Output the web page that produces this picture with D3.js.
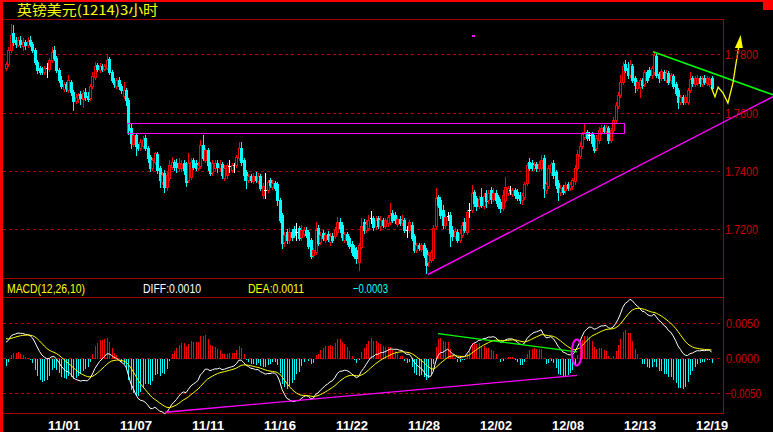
<!DOCTYPE html>
<html><head><meta charset="utf-8">
<script src="https://cdn.jsdelivr.net/npm/d3@7"></script>
<style>html,body{margin:0;padding:0;background:#000;overflow:hidden}svg{display:block}</style>
</head><body><svg id="c" width="773" height="432"></svg>
<script>
// ---------------- DATA ----------------
const titleText = "英镑美元(1214)3小时";
const openP = [1.7753,1.7767,1.7815,1.7873,1.7849,1.7832,1.7849,1.7828,1.7842,1.7832,
1.7849,1.7835,1.7815,1.7774,1.7753,1.7746,1.7739,1.7753,1.7750,1.7780,
1.7815,1.7787,1.7746,1.7712,1.7681,1.7698,1.7678,1.7705,1.7671,1.7640,
1.7647,1.7664,1.7647,1.7671,1.7657,1.7650,1.7691,1.7722,1.7763,1.7746,
1.7760,1.7750,1.7753,1.7784,1.7739,1.7712,1.7691,1.7712,1.7691,1.7657,
1.7678,1.7643,1.7547,1.7492,1.7523,1.7485,1.7479,1.7485,1.7513,1.7479,
1.7448,1.7410,1.7431,1.7458,1.7410,1.7362,1.7393,1.7345,1.7376,1.7413,
1.7431,1.7427,1.7410,1.7410,1.7427,1.7420,1.7369,1.7379,1.7437,1.7427,
1.7410,1.7417,1.7489,1.7437,1.7472,1.7420,1.7396,1.7410,1.7427,1.7410,
1.7424,1.7376,1.7386,1.7417,1.7403,1.7420,1.7420,1.7444,1.7479,1.7437,
1.7396,1.7369,1.7383,1.7365,1.7383,1.7365,1.7383,1.7317,1.7335,1.7335,
1.7369,1.7345,1.7359,1.7355,1.7300,1.7249,1.7156,1.7190,1.7163,1.7190,
1.7201,1.7190,1.7204,1.7173,1.7184,1.7197,1.7190,1.7163,1.7112,1.7122,
1.7204,1.7156,1.7187,1.7163,1.7184,1.7156,1.7177,1.7177,1.7190,1.7225,
1.7215,1.7163,1.7184,1.7170,1.7149,1.7136,1.7129,1.7088,1.7139,1.7225,
1.7197,1.7204,1.7239,1.7239,1.7211,1.7239,1.7211,1.7232,1.7211,1.7221,
1.7225,1.7256,1.7249,1.7218,1.7235,1.7221,1.7232,1.7197,1.7197,1.7215,
1.7177,1.7129,1.7146,1.7132,1.7146,1.7129,1.7088,1.7094,1.7101,1.7211,
1.7311,1.7300,1.7266,1.7215,1.7245,1.7249,1.7197,1.7177,1.7190,1.7163,
1.7180,1.7225,1.7190,1.7266,1.7266,1.7328,1.7307,1.7280,1.7311,1.7280,
1.7324,1.7300,1.7335,1.7304,1.7324,1.7311,1.7293,1.7273,1.7300,1.7324,
1.7335,1.7321,1.7335,1.7328,1.7317,1.7300,1.7311,1.7359,1.7431,1.7427,
1.7410,1.7424,1.7410,1.7410,1.7444,1.7335,1.7348,1.7396,1.7427,1.7396,
1.7359,1.7328,1.7345,1.7335,1.7355,1.7341,1.7348,1.7365,1.7410,1.7451,
1.7485,1.7516,1.7533,1.7523,1.7527,1.7513,1.7479,1.7506,1.7533,1.7551,
1.7537,1.7547,1.7506,1.7540,1.7575,1.7623,1.7660,1.7705,1.7767,1.7753,
1.7729,1.7760,1.7719,1.7684,1.7688,1.7712,1.7698,1.7739,1.7746,1.7729,
1.7739,1.7794,1.7732,1.7719,1.7739,1.7712,1.7736,1.7712,1.7726,1.7698,
1.7678,1.7636,1.7654,1.7636,1.7636,1.7678,1.7719,1.7698,1.7702,1.7719,
1.7698,1.7719,1.7702,1.7698,1.7719];
const highP = [1.7774,1.7825,1.7904,1.7900,1.7859,1.7859,1.7863,1.7856,1.7849,1.7859,
1.7863,1.7842,1.7822,1.7780,1.7760,1.7756,1.7760,1.7770,1.7787,1.7825,
1.7828,1.7794,1.7753,1.7726,1.7705,1.7705,1.7729,1.7712,1.7678,1.7664,
1.7667,1.7674,1.7678,1.7684,1.7671,1.7698,1.7739,1.7774,1.7770,1.7770,
1.7767,1.7767,1.7801,1.7791,1.7746,1.7719,1.7719,1.7722,1.7698,1.7705,
1.7684,1.7650,1.7561,1.7530,1.7530,1.7492,1.7509,1.7520,1.7523,1.7485,
1.7455,1.7444,1.7465,1.7465,1.7417,1.7396,1.7403,1.7396,1.7437,1.7448,
1.7437,1.7441,1.7444,1.7437,1.7437,1.7431,1.7461,1.7444,1.7444,1.7437,
1.7431,1.7506,1.7523,1.7479,1.7479,1.7431,1.7437,1.7437,1.7437,1.7437,
1.7431,1.7420,1.7427,1.7437,1.7427,1.7427,1.7455,1.7499,1.7499,1.7444,
1.7403,1.7389,1.7389,1.7393,1.7396,1.7393,1.7389,1.7359,1.7393,1.7369,
1.7376,1.7369,1.7365,1.7362,1.7307,1.7256,1.7190,1.7201,1.7204,1.7201,
1.7211,1.7221,1.7211,1.7215,1.7208,1.7208,1.7197,1.7170,1.7136,1.7225,
1.7215,1.7190,1.7197,1.7190,1.7194,1.7187,1.7187,1.7208,1.7242,1.7239,
1.7225,1.7190,1.7190,1.7177,1.7160,1.7146,1.7139,1.7153,1.7239,1.7235,
1.7232,1.7249,1.7263,1.7245,1.7245,1.7245,1.7245,1.7239,1.7239,1.7249,
1.7290,1.7266,1.7259,1.7245,1.7245,1.7249,1.7239,1.7211,1.7232,1.7225,
1.7184,1.7153,1.7153,1.7153,1.7153,1.7136,1.7122,1.7129,1.7215,1.7341,
1.7317,1.7311,1.7283,1.7252,1.7259,1.7259,1.7211,1.7204,1.7201,1.7201,
1.7225,1.7239,1.7266,1.7290,1.7352,1.7335,1.7314,1.7314,1.7341,1.7324,
1.7335,1.7335,1.7345,1.7341,1.7335,1.7317,1.7304,1.7335,1.7379,1.7348,
1.7348,1.7341,1.7341,1.7338,1.7328,1.7324,1.7362,1.7427,1.7444,1.7437,
1.7431,1.7431,1.7434,1.7455,1.7455,1.7362,1.7420,1.7431,1.7437,1.7403,
1.7369,1.7352,1.7352,1.7362,1.7362,1.7362,1.7376,1.7420,1.7472,1.7499,
1.7533,1.7564,1.7540,1.7533,1.7533,1.7523,1.7523,1.7551,1.7558,1.7558,
1.7558,1.7554,1.7547,1.7585,1.7636,1.7671,1.7729,1.7774,1.7780,1.7774,
1.7780,1.7767,1.7726,1.7712,1.7719,1.7719,1.7746,1.7746,1.7756,1.7760,
1.7811,1.7801,1.7739,1.7750,1.7746,1.7746,1.7743,1.7736,1.7732,1.7705,
1.7684,1.7660,1.7660,1.7660,1.7684,1.7739,1.7726,1.7726,1.7729,1.7726,
1.7726,1.7729,1.7726,1.7722,1.7726];
const lowP = [1.7746,1.7760,1.7808,1.7832,1.7825,1.7828,1.7825,1.7815,1.7818,1.7825,
1.7828,1.7808,1.7767,1.7736,1.7732,1.7732,1.7732,1.7722,1.7743,1.7774,
1.7780,1.7739,1.7705,1.7684,1.7674,1.7674,1.7671,1.7660,1.7609,1.7633,
1.7636,1.7630,1.7619,1.7643,1.7640,1.7643,1.7684,1.7715,1.7743,1.7739,
1.7743,1.7746,1.7750,1.7732,1.7705,1.7688,1.7684,1.7681,1.7667,1.7650,
1.7626,1.7527,1.7479,1.7485,1.7455,1.7472,1.7472,1.7479,1.7472,1.7431,
1.7400,1.7403,1.7424,1.7393,1.7345,1.7355,1.7328,1.7335,1.7369,1.7407,
1.7403,1.7396,1.7403,1.7400,1.7389,1.7348,1.7362,1.7372,1.7407,1.7403,
1.7403,1.7410,1.7437,1.7431,1.7403,1.7386,1.7386,1.7403,1.7396,1.7403,
1.7376,1.7369,1.7376,1.7396,1.7396,1.7396,1.7413,1.7437,1.7420,1.7369,
1.7341,1.7362,1.7362,1.7359,1.7362,1.7359,1.7335,1.7307,1.7307,1.7328,
1.7345,1.7338,1.7335,1.7283,1.7225,1.7136,1.7142,1.7153,1.7153,1.7163,
1.7173,1.7163,1.7163,1.7163,1.7177,1.7173,1.7136,1.7101,1.7105,1.7115,
1.7146,1.7149,1.7163,1.7156,1.7160,1.7146,1.7156,1.7170,1.7184,1.7190,
1.7163,1.7156,1.7149,1.7136,1.7112,1.7101,1.7084,1.7060,1.7132,1.7187,
1.7190,1.7197,1.7221,1.7197,1.7201,1.7204,1.7197,1.7208,1.7204,1.7211,
1.7218,1.7225,1.7221,1.7211,1.7215,1.7215,1.7190,1.7173,1.7190,1.7163,
1.7122,1.7122,1.7129,1.7125,1.7105,1.7050,1.7074,1.7088,1.7094,1.7204,
1.7276,1.7239,1.7204,1.7204,1.7232,1.7142,1.7163,1.7170,1.7156,1.7156,
1.7173,1.7190,1.7184,1.7242,1.7259,1.7280,1.7266,1.7273,1.7276,1.7273,
1.7276,1.7290,1.7290,1.7297,1.7290,1.7273,1.7259,1.7266,1.7293,1.7317,
1.7321,1.7314,1.7307,1.7300,1.7290,1.7287,1.7304,1.7352,1.7403,1.7403,
1.7403,1.7400,1.7403,1.7403,1.7311,1.7324,1.7341,1.7386,1.7376,1.7341,
1.7300,1.7317,1.7321,1.7324,1.7335,1.7335,1.7338,1.7355,1.7403,1.7444,
1.7479,1.7509,1.7506,1.7506,1.7485,1.7465,1.7472,1.7496,1.7527,1.7530,
1.7530,1.7496,1.7499,1.7533,1.7568,1.7616,1.7654,1.7698,1.7739,1.7719,
1.7722,1.7705,1.7671,1.7678,1.7654,1.7684,1.7691,1.7705,1.7722,1.7719,
1.7732,1.7722,1.7705,1.7712,1.7712,1.7705,1.7698,1.7702,1.7684,1.7660,
1.7616,1.7630,1.7630,1.7630,1.7630,1.7671,1.7691,1.7691,1.7695,1.7691,
1.7691,1.7698,1.7695,1.7691,1.7678];
const closeP = [1.7767,1.7815,1.7866,1.7842,1.7835,1.7849,1.7835,1.7842,1.7832,1.7846,
1.7835,1.7815,1.7774,1.7746,1.7739,1.7739,1.7753,1.7753,1.7780,1.7808,
1.7787,1.7746,1.7712,1.7691,1.7698,1.7684,1.7712,1.7671,1.7640,1.7654,
1.7660,1.7650,1.7667,1.7654,1.7647,1.7691,1.7726,1.7760,1.7750,1.7760,
1.7750,1.7760,1.7780,1.7739,1.7712,1.7698,1.7712,1.7691,1.7678,1.7678,
1.7643,1.7540,1.7496,1.7523,1.7485,1.7479,1.7499,1.7506,1.7479,1.7444,
1.7410,1.7437,1.7461,1.7403,1.7369,1.7386,1.7345,1.7386,1.7420,1.7431,
1.7413,1.7413,1.7427,1.7424,1.7403,1.7362,1.7427,1.7431,1.7413,1.7410,
1.7420,1.7489,1.7444,1.7472,1.7420,1.7393,1.7427,1.7427,1.7413,1.7424,
1.7386,1.7410,1.7420,1.7417,1.7420,1.7420,1.7448,1.7479,1.7431,1.7386,
1.7369,1.7383,1.7369,1.7383,1.7369,1.7383,1.7341,1.7348,1.7335,1.7362,
1.7352,1.7359,1.7341,1.7300,1.7232,1.7153,1.7180,1.7163,1.7190,1.7173,
1.7180,1.7190,1.7170,1.7197,1.7197,1.7180,1.7142,1.7108,1.7129,1.7197,
1.7153,1.7180,1.7170,1.7180,1.7166,1.7177,1.7163,1.7197,1.7225,1.7204,
1.7173,1.7184,1.7163,1.7142,1.7122,1.7108,1.7101,1.7146,1.7211,1.7197,
1.7218,1.7232,1.7239,1.7208,1.7232,1.7211,1.7232,1.7215,1.7232,1.7242,
1.7249,1.7232,1.7232,1.7235,1.7221,1.7232,1.7197,1.7197,1.7225,1.7170,
1.7129,1.7146,1.7136,1.7146,1.7112,1.7077,1.7112,1.7122,1.7204,1.7307,
1.7283,1.7249,1.7215,1.7242,1.7245,1.7187,1.7177,1.7194,1.7163,1.7187,
1.7215,1.7197,1.7259,1.7266,1.7324,1.7290,1.7280,1.7304,1.7283,1.7314,
1.7297,1.7324,1.7304,1.7324,1.7300,1.7280,1.7273,1.7317,1.7345,1.7341,
1.7335,1.7335,1.7317,1.7307,1.7300,1.7317,1.7355,1.7420,1.7410,1.7410,
1.7420,1.7410,1.7424,1.7437,1.7341,1.7355,1.7410,1.7424,1.7386,1.7352,
1.7328,1.7341,1.7328,1.7352,1.7341,1.7355,1.7369,1.7410,1.7458,1.7485,
1.7527,1.7533,1.7513,1.7523,1.7496,1.7472,1.7513,1.7540,1.7547,1.7537,
1.7551,1.7506,1.7540,1.7575,1.7626,1.7660,1.7705,1.7760,1.7746,1.7729,
1.7767,1.7712,1.7695,1.7705,1.7712,1.7695,1.7739,1.7712,1.7729,1.7753,
1.7798,1.7729,1.7719,1.7743,1.7719,1.7736,1.7705,1.7729,1.7691,1.7667,
1.7636,1.7654,1.7636,1.7654,1.7678,1.7715,1.7702,1.7719,1.7719,1.7702,
1.7715,1.7705,1.7719,1.7715,1.7684];

// EMA state carried in from bars before the visible window
const seedEma12 = 1.7759, seedEma26 = 1.7735, seedDea = 0.0029;

const priceTicks = [1.7200, 1.7400, 1.7600, 1.7800];
const macdTicks = [-0.0050, 0.0000, 0.0050];
const dateLabels = ["11/01","11/07","11/11","11/16","11/22","11/28","12/02","12/08","12/13","12/19"];
const dateBars   = [24, 54, 84, 114, 144, 174, 204, 234, 264, 294];
const headerNames  = ["MACD(12,26,10)", "DIFF:", "DEA:", ""];
const headerValues = [null, 0.0010, 0.0011, -0.0003];

// drawn annotations, in [bar, value]
const upTrend     = [[175.8, 1.7045], [319.6, 1.7655]];
const downTrend   = [[269.6, 1.7809], [319.6, 1.7661]];
const zoneBars    = [50.4, 257.5];
const zonePrices  = [1.7529, 1.7563];
const projection  = [[293.8,1.7688],[295.4,1.7654],[296.7,1.7688],[298.8,1.7667],[300.8,1.7633],[302.9,1.7702],[304.6,1.7791],[305.8,1.7849]];
const arrowHead   = [[306.1,1.7866],[303.7,1.7822],[307.0,1.7822]];
const markDot     = [194.2, 1.7867];
const macdGreen   = [[180, 0.0035], [237.9, 0.0009]];
const macdMagenta = [[66.3, -0.0078], [237.9, -0.0025]];
const macdCircle  = [237.8, 0.0008];

// ---------------- CHART ----------------
const W = 773, H = 432;
const RED = "#ff0000", CYAN = "#00ffff", GRID = "#b40000", FRAME = "#a00000", LBL = "#c80000";
const svg = d3.select("#c");
svg.append("rect").attr("width", W).attr("height", H).attr("fill", "#000");

const N = closeP.length;
const x = d3.scaleLinear().domain([0, 294]).range([6, 711.6]);
const yP = d3.scaleLinear().domain([1.72, 1.78]).range([229.3, 54.3]);
const yM = d3.scaleLinear().domain([-0.005, 0.005]).range([392.8, 323.3]);
const px = v => Math.round(v) + 0.5;

// grid lines
svg.append("g").selectAll("line").data(priceTicks).join("line")
  .attr("x1", 3).attr("x2", 723).attr("y1", d => px(yP(d))).attr("y2", d => px(yP(d)))
  .attr("stroke", GRID).attr("stroke-dasharray", "3,3");
svg.append("g").selectAll("line").data(macdTicks).join("line")
  .attr("x1", 3).attr("x2", 723).attr("y1", d => px(yM(d))).attr("y2", d => px(yM(d)))
  .attr("stroke", GRID).attr("stroke-dasharray", "3,3");

// frame
const frame = svg.append("g").attr("stroke", FRAME).attr("shape-rendering", "crispEdges");
[19, 278, 297, 413].forEach(yy => frame.append("line").attr("x1", 3).attr("x2", 724).attr("y1", yy + 0.5).attr("y2", yy + 0.5));
frame.append("line").attr("x1", 723.5).attr("x2", 723.5).attr("y1", 19).attr("y2", 414);

// candles
const bars = d3.range(N).map(i => ({i, o: openP[i], h: highP[i], l: lowP[i], c: closeP[i]}));
const cg = svg.append("g").attr("shape-rendering", "crispEdges");
const bg = cg.selectAll("g").data(bars).join("g");
const col = d => d.c > d.o ? RED : (d.c < d.o ? CYAN : "#ffffff");
bg.append("line")
  .attr("x1", d => Math.round(x(d.i)) + 0.5).attr("x2", d => Math.round(x(d.i)) + 0.5)
  .attr("y1", d => Math.round(yP(d.h))).attr("y2", d => Math.round(yP(d.l)) + 1)
  .attr("stroke", col);
bg.each(function(d) {
  const g = d3.select(this), X = Math.round(x(d.i));
  if (d.c > d.o) {
    const t = Math.round(yP(d.c)), b = Math.round(yP(d.o));
    g.append("rect").attr("x", X - 0.5).attr("y", t + 0.5).attr("width", 2).attr("height", Math.max(1, b - t))
      .attr("fill", "#000").attr("stroke", RED);
  } else if (d.c < d.o) {
    const t = Math.round(yP(d.o)), b = Math.round(yP(d.c));
    g.append("rect").attr("x", X - 1).attr("y", t).attr("width", 3).attr("height", Math.max(1, b - t + 1)).attr("fill", CYAN);
  } else {
    const t = Math.round(yP(d.c));
    g.append("rect").attr("x", X - 1).attr("y", t).attr("width", 3).attr("height", 1).attr("fill", "#fff");
  }
});

// MACD computed from the closes
const k12 = 2 / 13, k26 = 2 / 27, k10 = 2 / 11;
let e12 = seedEma12, e26 = seedEma26, dea = seedDea;
const diffS = [], deaS = [], macdS = [];
closeP.forEach(c => {
  e12 += k12 * (c - e12); e26 += k26 * (c - e26);
  const df = e12 - e26; dea += k10 * (df - dea);
  diffS.push(df); deaS.push(dea); macdS.push(2 * (df - dea));
});
svg.append("g").attr("shape-rendering", "crispEdges").selectAll("line").data(macdS).join("line")
  .attr("x1", (d, i) => Math.round(x(i)) + 0.5).attr("x2", (d, i) => Math.round(x(i)) + 0.5)
  .attr("y1", Math.round(yM(0)) + 0.5).attr("y2", d => Math.round(yM(d)) + 0.5)
  .attr("stroke", d => d >= 0 ? RED : CYAN);
const mline = d3.line().x((d, i) => x(i)).y(d => yM(d));
svg.append("path").attr("d", mline(diffS)).attr("fill", "none").attr("stroke", "#fff").attr("stroke-width", 1);
svg.append("path").attr("d", mline(deaS)).attr("fill", "none").attr("stroke", "#ffff00").attr("stroke-width", 1);

// annotations
const ln = d3.line().x(d => x(d[0])).y(d => yP(d[1]));
const lnM = d3.line().x(d => x(d[0])).y(d => yM(d[1]));
svg.append("rect").attr("x", Math.round(x(zoneBars[0])) + 0.5).attr("y", Math.round(yP(zonePrices[1])) + 0.5)
  .attr("width", Math.round(x(zoneBars[1]) - x(zoneBars[0]))).attr("height", Math.round(yP(zonePrices[0]) - yP(zonePrices[1])))
  .attr("fill", "none").attr("stroke", "#ff00ff");
svg.append("path").attr("d", ln(upTrend)).attr("stroke", "#ff00ff").attr("stroke-width", 1.5).attr("fill", "none");
svg.append("path").attr("d", ln(downTrend)).attr("stroke", "#00ff00").attr("stroke-width", 1.5).attr("fill", "none");
svg.append("path").attr("d", ln(projection)).attr("stroke", "#ffff00").attr("stroke-width", 1.3).attr("fill", "none");
svg.append("path").attr("d", ln(arrowHead) + "Z").attr("fill", "#ffff00");
svg.append("rect").attr("x", Math.round(x(markDot[0]))).attr("y", Math.round(yP(markDot[1]))).attr("width", 3).attr("height", 2).attr("fill", "#ff00ff");
svg.append("path").attr("d", lnM(macdGreen)).attr("stroke", "#00ff00").attr("stroke-width", 1.3).attr("fill", "none");
svg.append("path").attr("d", lnM(macdMagenta)).attr("stroke", "#ff00ff").attr("stroke-width", 1.3).attr("fill", "none");
svg.append("ellipse").attr("cx", x(macdCircle[0])).attr("cy", yM(macdCircle[1])).attr("rx", 5).attr("ry", 13)
  .attr("fill", "none").attr("stroke", "#ff00ff").attr("stroke-width", 2);

// price axis
const fmt4 = d3.format(".4f");
const pa = svg.append("g").attr("transform", "translate(723,0)")
  .call(d3.axisRight(yP).tickValues(priceTicks).tickFormat(fmt4).tickSize(0).tickPadding(2));
pa.select(".domain").remove();
pa.selectAll("text").attr("fill", LBL).attr("font-family", "Liberation Sans, Arial, sans-serif").attr("font-size", 13)
  .attr("textLength", 33).attr("lengthAdjust", "spacingAndGlyphs").attr("dy", "0.36em");
const ma = svg.append("g").attr("transform", "translate(723,0)")
  .call(d3.axisRight(yM).tickValues(macdTicks).tickFormat(fmt4).tickSize(0).tickPadding(2));
ma.select(".domain").remove();
ma.selectAll("text").attr("fill", LBL).attr("font-family", "Liberation Sans, Arial, sans-serif").attr("font-size", 12.5)
  .attr("textLength", d => d < 0 ? 36 : 33).attr("lengthAdjust", "spacingAndGlyphs").attr("dy", "0.36em")
  .attr("x", d => d < 0 ? 2 : 3);

// date axis
const da = svg.append("g").attr("transform", "translate(0,416)")
  .call(d3.axisBottom(x).tickValues(dateBars).tickFormat((d, i) => dateLabels[i]).tickSize(0).tickPadding(0));
da.select(".domain").remove();
da.selectAll("text").attr("fill", "#fff").attr("font-family", "Liberation Sans, Arial, sans-serif")
  .attr("font-weight", "bold").attr("font-size", 13).attr("dy", "14px")
  .attr("textLength", 32).attr("lengthAdjust", "spacingAndGlyphs");

// MACD header
const hdr = [
  {t: headerNames[0], x: 7, w: 78, c: "#ffff00"},
  {t: headerNames[1] + fmt4(headerValues[1]), x: 143, w: 58, c: "#ffffff"},
  {t: headerNames[2] + fmt4(headerValues[2]), x: 248, w: 56, c: "#ffff00"},
  {t: headerNames[3] + fmt4(headerValues[3]), x: 353, w: 35, c: CYAN}
];
svg.append("g").selectAll("text").data(hdr).join("text")
  .attr("x", d => d.x).attr("y", 293).text(d => d.t).attr("fill", d => d.c)
  .attr("font-family", "Liberation Sans, Arial, sans-serif").attr("font-size", 13.5)
  .attr("textLength", d => d.w).attr("lengthAdjust", "spacingAndGlyphs");

// outer red border
svg.append("rect").attr("x", 0).attr("y", 0).attr("width", 3).attr("height", H).attr("fill", RED);
svg.append("rect").attr("x", 0).attr("y", 0).attr("width", W).attr("height", 2).attr("fill", RED);
svg.append("rect").attr("x", 763).attr("y", 0).attr("width", 10).attr("height", 10).attr("fill", RED);

// title
svg.append("text").attr("x", 17).attr("y", 15).text(titleText).attr("fill", "#ffff00")
  .attr("font-family", "Noto Sans CJK SC, sans-serif").attr("font-size", 13.5)
  .attr("textLength", 141).attr("lengthAdjust", "spacingAndGlyphs");
</script></body></html>
